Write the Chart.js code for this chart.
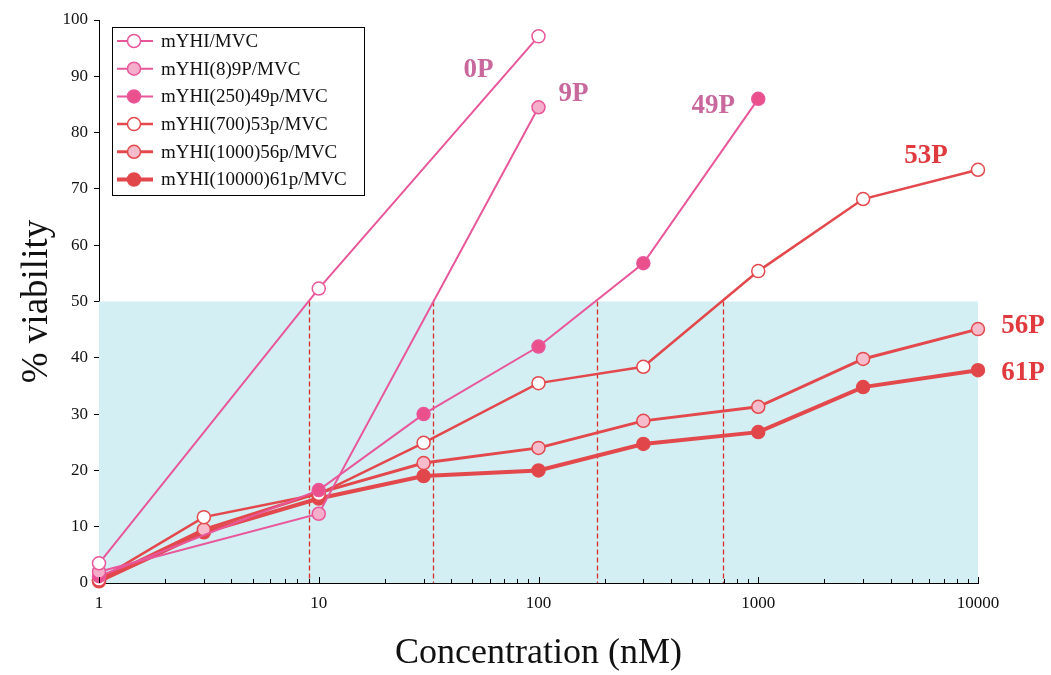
<!DOCTYPE html>
<html>
<head>
<meta charset="utf-8">
<script src="https://cdn.jsdelivr.net/npm/chart.js@4.4.0/dist/chart.umd.min.js"></script>
<style>
html,body{margin:0;padding:0;background:#fff;}
#wrap{width:1051px;height:675px;}
</style>
</head>
<body>
<div id="wrap"><canvas id="c" width="1051" height="675"></canvas></div>
<script>
// ---- data ----
const x0P  = [1, 10, 100];
const y0P  = [3.5, 52.3, 97.1];
const x9P  = [1, 10, 100];
const y9P  = [2.0, 12.3, 84.5];
const x49P = [1, 10, 30, 100, 300, 1000];
const y49P = [1.2, 16.5, 30.0, 42.0, 56.8, 86.0];
const xLate = [1, 3, 10, 30, 100, 300, 1000, 3000, 10000];
const y53P = [0.6, 11.7, 15.8, 24.9, 35.5, 38.4, 55.4, 68.2, 73.4];
const y56P = [0.5, 9.5, 16.0, 21.3, 24.0, 28.8, 31.3, 39.8, 45.1];
const y61P = [0.3, 9.0, 15.0, 19.0, 20.0, 24.7, 26.8, 34.8, 37.8];
const seriesNames = ['mYHI/MVC','mYHI(8)9P/MVC','mYHI(250)49p/MVC','mYHI(700)53p/MVC','mYHI(1000)56p/MVC','mYHI(10000)61p/MVC'];
const endLabels = ['0P','9P','49P','53P','56P','61P'];
const xTickValues = [1, 10, 100, 1000, 10000];
const yTickStep = 10;
const shadeMax = 50;
const thresholdX = [9, 33, 185, 690];

const pts = (xs, ys) => xs.map((x, i) => ({x: x, y: ys[i]}));

const PINK = '#e9579b';
const RED = '#e2484c';
const styles = [
  {line: PINK, fill: '#ffffff', w: 2},
  {line: PINK, fill: '#f4aecb', w: 2},
  {line: PINK, fill: '#e9508c', w: 2},
  {line: RED,  fill: '#ffffff', w: 2.5},
  {line: RED,  fill: '#f6bccb', w: 3},
  {line: RED,  fill: '#e0464a', w: 4}
];
const labelStyle = [
  {color: '#c8689c', dx: -60, dy: 34},
  {color: '#c8689c', dx: 35, dy: -13},
  {color: '#c8689c', dx: -45, dy: 7},
  {color: '#e0393e', dx: -52, dy: -14},
  {color: '#e0393e', dx: 45, dy: -3},
  {color: '#e0393e', dx: 45, dy: 3}
];
const allData = [pts(x0P,y0P), pts(x9P,y9P), pts(x49P,y49P), pts(xLate,y53P), pts(xLate,y56P), pts(xLate,y61P)];

const datasets = allData.map((d, i) => ({
  label: seriesNames[i],
  data: d,
  borderColor: styles[i].line,
  backgroundColor: styles[i].fill,
  borderWidth: styles[i].w,
  pointRadius: 6.5,
  pointBorderWidth: 1.5,
  pointBorderColor: styles[i].line,
  pointBackgroundColor: styles[i].fill,
  tension: 0,
  fill: false,
  clip: false
}));

const SERIF = "'Liberation Serif', 'DejaVu Serif', serif";

const deco = {
  id: 'deco',
  beforeDatasetsDraw(chart) {
    const {ctx} = chart;
    const xs = chart.scales.x, ys = chart.scales.y;
    const x0 = xs.getPixelForValue(xTickValues[0]);
    const x1 = xs.getPixelForValue(xTickValues[xTickValues.length-1]);
    const yTop = ys.getPixelForValue(shadeMax);
    const yBot = ys.getPixelForValue(0);
    ctx.save();
    ctx.fillStyle = '#d3eff3';
    ctx.fillRect(x0, yTop, x1 - x0, yBot - yTop);
    ctx.strokeStyle = '#d8302c';
    ctx.lineWidth = 1.3;
    ctx.setLineDash([5, 3]);
    thresholdX.forEach(v => {
      const px = Math.round(xs.getPixelForValue(v)) + 0.5;
      ctx.beginPath();
      ctx.moveTo(px, yTop);
      ctx.lineTo(px, yBot);
      ctx.stroke();
    });
    ctx.restore();
  },
  afterDraw(chart) {
    const {ctx} = chart;
    const xs = chart.scales.x, ys = chart.scales.y;
    const yBot = ys.getPixelForValue(0);
    ctx.save();
    // inner log ticks
    ctx.strokeStyle = '#000';
    ctx.lineWidth = 1;
    for (let d = 0; d < 4; d++) {
      for (let k = 1; k <= 9; k++) {
        const v = k * Math.pow(10, d);
        const px = Math.round(xs.getPixelForValue(v)) + 0.5;
        ctx.beginPath();
        ctx.moveTo(px, yBot);
        ctx.lineTo(px, yBot - (k === 1 ? 6 : 4));
        ctx.stroke();
      }
    }
    const pe = Math.round(xs.getPixelForValue(10000)) + 0.5;
    ctx.beginPath(); ctx.moveTo(pe, yBot); ctx.lineTo(pe, yBot - 6); ctx.stroke();

    // end labels
    ctx.font = "bold 27px " + SERIF;
    ctx.textAlign = 'center';
    ctx.textBaseline = 'middle';
    chart.data.datasets.forEach((ds, i) => {
      const last = ds.data[ds.data.length - 1];
      const px = xs.getPixelForValue(last.x);
      const py = ys.getPixelForValue(last.y);
      ctx.fillStyle = labelStyle[i].color;
      ctx.fillText(endLabels[i], px + labelStyle[i].dx, py + labelStyle[i].dy);
    });

    // legend
    const lx = chart.chartArea.left + 13, ly = 27, lw = 252, lh = 168;
    ctx.fillStyle = '#fff';
    ctx.fillRect(lx, ly, lw, lh);
    ctx.strokeStyle = '#000';
    ctx.lineWidth = 1;
    ctx.setLineDash([]);
    ctx.strokeRect(lx + 0.5, ly + 0.5, lw, lh);
    ctx.font = "19px " + SERIF;
    ctx.textAlign = 'left';
    ctx.textBaseline = 'middle';
    chart.data.datasets.forEach((ds, i) => {
      const cy = ly + 14 + i * 27.7;
      ctx.strokeStyle = ds.borderColor;
      ctx.lineWidth = ds.borderWidth;
      ctx.beginPath();
      ctx.moveTo(lx + 5, cy);
      ctx.lineTo(lx + 41, cy);
      ctx.stroke();
      ctx.beginPath();
      ctx.arc(lx + 22, cy, 6.5, 0, Math.PI * 2);
      ctx.fillStyle = ds.pointBackgroundColor;
      ctx.fill();
      ctx.lineWidth = 1.5;
      ctx.strokeStyle = ds.pointBorderColor;
      ctx.stroke();
      ctx.fillStyle = '#111';
      ctx.fillText(ds.label, lx + 49, cy + 1);
    });
    ctx.restore();
  }
};

new Chart(document.getElementById('c'), {
  type: 'line',
  data: {datasets: datasets},
  plugins: [deco],
  options: {
    responsive: false,
    animation: false,
    layout: {padding: {top: 20, right: 73, left: 0, bottom: 0}},
    plugins: {legend: {display: false}, tooltip: {enabled: false}},
    scales: {
      x: {
        type: 'logarithmic',
        min: 1, max: 10000,
        afterBuildTicks: s => { s.ticks = xTickValues.map(v => ({value: v, major: true})); },
        afterFit: s => { s.height = 92; },
        ticks: {
          callback: v => String(v),
          font: {family: SERIF, size: 17},
          color: '#111',
          padding: 10,
          maxRotation: 0,
          autoSkip: false
        },
        grid: {drawOnChartArea: false, drawTicks: false},
        border: {display: true, color: '#000', width: 1},
        title: {
          display: true,
          text: 'Concentration (nM)',
          font: {family: SERIF, size: 36},
          color: '#111',
          padding: {top: 0, bottom: 0}
        }
      },
      y: {
        type: 'linear',
        min: 0, max: 100,
        afterFit: s => { s.width = 99; },
        ticks: {
          stepSize: yTickStep,
          font: {family: SERIF, size: 17},
          color: '#111',
          padding: 6
        },
        grid: {drawOnChartArea: false, drawTicks: true, tickLength: 5, color: '#000'},
        border: {display: true, color: '#000', width: 1},
        title: {
          display: true,
          text: '% viability',
          font: {family: SERIF, size: 37},
          color: '#111',
          padding: {top: 15, bottom: 0}
        }
      }
    }
  }
});
</script>
</body>
</html>
